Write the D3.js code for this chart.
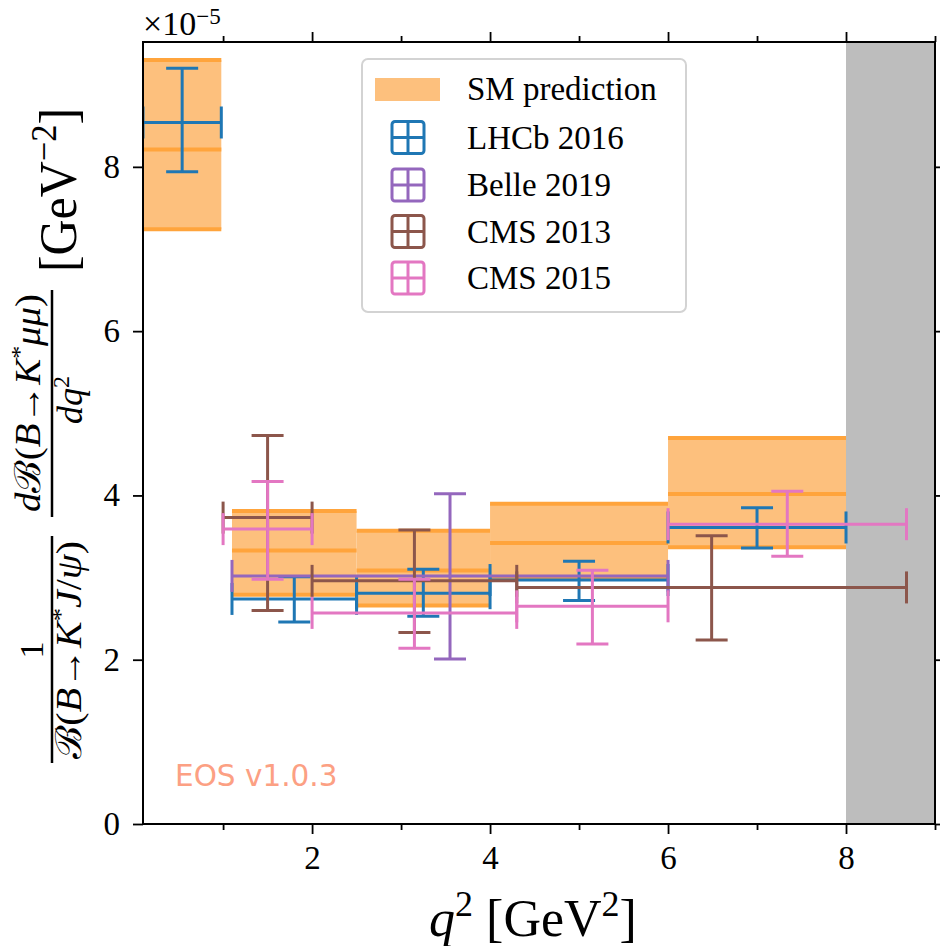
<!DOCTYPE html>
<html>
<head>
<meta charset="utf-8">
<script src="https://cdn.jsdelivr.net/npm/d3@7"></script>
<style>
  body { margin: 0; background: #fff; }
  svg text { font-family: "Liberation Serif", "Times New Roman", serif; }
</style>
</head>
<body>
<svg id="chart" width="940" height="946"></svg>
<script>
// ---- SM prediction (binned, units of 1e-5 GeV^-2) ----
const smLo      = [0.1, 1.1, 2.5, 4.0, 6.0];
const smHi      = [0.98, 2.5, 4.0, 6.0, 8.0];
const smCentral = [8.21, 3.33, 3.085, 3.42, 4.016];
const smLower   = [7.24, 2.79, 2.66, 2.99, 3.37];
const smUpper   = [9.30, 3.81, 3.57, 3.90, 4.70];

// ---- measurements ----
const lhcbLo      = [0.1, 1.1, 2.5, 4.0, 6.0];
const lhcbHi      = [0.98, 2.5, 4.0, 6.0, 8.0];
const lhcbValue   = [8.54, 2.74, 2.81, 2.97, 3.61];
const lhcbErrUp   = [0.66, 0.27, 0.29, 0.23, 0.24];
const lhcbErrDown = [0.60, 0.28, 0.28, 0.25, 0.25];

const belleLo      = [1.1];
const belleHi      = [6.0];
const belleValue   = [3.02];
const belleErrUp   = [1.00];
const belleErrDown = [1.01];

const cms13Lo      = [1.0, 2.0, 4.3];
const cms13Hi      = [2.0, 4.3, 8.68];
const cms13Value   = [3.73, 2.96, 2.88];
const cms13ErrUp   = [1.00, 0.62, 0.63];
const cms13ErrDown = [1.13, 0.63, 0.64];

const cms15Lo      = [1.0, 2.0, 4.3, 6.0];
const cms15Hi      = [2.0, 4.3, 6.0, 8.68];
const cms15Value   = [3.59, 2.57, 2.65, 3.65];
const cms15ErrUp   = [0.58, 0.41, 0.44, 0.40];
const cms15ErrDown = [0.61, 0.43, 0.46, 0.39];

const seriesNames  = ["LHCb 2016", "Belle 2019", "CMS 2013", "CMS 2015"];
const seriesColors = ["#1f77b4", "#9467bd", "#8c564b", "#e377c2"];

// ---- axes ----
const xTicks = [2, 4, 6, 8];
const xMinorTicks = [1, 3, 5, 7, 9];
const yTicks = [0, 2, 4, 6, 8];
const xDomain = [0.1, 9.0];
const yDomain = [0, 9.52];
const vetoRange = [8.0, 9.0];

const svg = d3.select("#chart");
const L = 143, R = 935, T = 42, B = 824;
const x = d3.scaleLinear().domain(xDomain).range([L, R]);
const y = d3.scaleLinear().domain(yDomain).range([B, T]);

svg.append("defs").append("clipPath").attr("id", "plotclip")
  .append("rect").attr("x", L).attr("y", T).attr("width", R - L).attr("height", B - T);

const plot = svg.append("g").attr("clip-path", "url(#plotclip)");

// vetoed charmonium region
plot.append("rect")
  .attr("x", x(vetoRange[0])).attr("y", T)
  .attr("width", x(vetoRange[1]) - x(vetoRange[0])).attr("height", B - T)
  .attr("fill", "#bdbdbd");

// SM bands
const sm = smLo.map((lo, i) => ({ lo, hi: smHi[i], c: smCentral[i], lo95: smLower[i], hi95: smUpper[i] }));
const smG = plot.append("g");
smG.selectAll("rect").data(sm).join("rect")
  .attr("x", d => x(d.lo)).attr("width", d => x(d.hi) - x(d.lo))
  .attr("y", d => y(d.hi95)).attr("height", d => y(d.lo95) - y(d.hi95))
  .attr("fill", "#fdc07d");
["hi95", "c", "lo95"].forEach(k => {
  smG.selectAll("line." + k).data(sm).join("line").attr("class", k)
    .attr("x1", d => x(d.lo)).attr("x2", d => x(d.hi))
    .attr("y1", d => y(d[k])).attr("y2", d => y(d[k]))
    .attr("stroke", "#ffa43c").attr("stroke-width", 4);
});

// error bars
const CAP = 16;
function drawSeries(lo, hi, val, up, dn, color) {
  const rows = lo.map((l, i) => ({ lo: l, hi: hi[i], v: val[i], up: up[i], dn: dn[i], mid: (l + hi[i]) / 2 }));
  const segs = [];
  rows.forEach(r => {
    const yv = y(r.v), xm = x(r.mid);
    segs.push([x(r.lo), yv, x(r.hi), yv]);
    segs.push([xm, y(r.v - r.dn), xm, y(r.v + r.up)]);
    segs.push([x(r.lo), yv - CAP, x(r.lo), yv + CAP]);
    segs.push([x(r.hi), yv - CAP, x(r.hi), yv + CAP]);
    segs.push([xm - CAP, y(r.v + r.up), xm + CAP, y(r.v + r.up)]);
    segs.push([xm - CAP, y(r.v - r.dn), xm + CAP, y(r.v - r.dn)]);
  });
  plot.append("g").selectAll("line").data(segs).join("line")
    .attr("x1", d => d[0]).attr("y1", d => d[1]).attr("x2", d => d[2]).attr("y2", d => d[3])
    .attr("stroke", color).attr("stroke-width", 3);
}
drawSeries(lhcbLo, lhcbHi, lhcbValue, lhcbErrUp, lhcbErrDown, seriesColors[0]);
drawSeries(belleLo, belleHi, belleValue, belleErrUp, belleErrDown, seriesColors[1]);
drawSeries(cms13Lo, cms13Hi, cms13Value, cms13ErrUp, cms13ErrDown, seriesColors[2]);
drawSeries(cms15Lo, cms15Hi, cms15Value, cms15ErrUp, cms15ErrDown, seriesColors[3]);

// frame
svg.append("rect").attr("x", L).attr("y", T).attr("width", R - L).attr("height", B - T)
  .attr("fill", "none").attr("stroke", "#000").attr("stroke-width", 2);

// axes with outward ticks on all four sides
function styleAxis(g, fs) {
  g.select(".domain").remove();
  g.selectAll(".tick line").attr("stroke", "#000").attr("stroke-width", 1.8);
  g.selectAll(".tick text").style("font-family", '"Liberation Serif", serif')
    .style("font-size", fs + "px").style("fill", "#000");
}
svg.append("g").attr("transform", `translate(0,${B})`)
  .call(d3.axisBottom(x).tickValues(xTicks).tickSize(10).tickPadding(12).tickFormat(d3.format("d")))
  .call(g => styleAxis(g, 33));
svg.append("g").attr("transform", `translate(0,${B})`)
  .call(d3.axisBottom(x).tickValues(xMinorTicks).tickSize(6).tickFormat(""))
  .call(g => styleAxis(g, 33));
svg.append("g").attr("transform", `translate(0,${T})`)
  .call(d3.axisTop(x).tickValues(xTicks).tickSize(10).tickFormat(""))
  .call(g => styleAxis(g, 33));
svg.append("g").attr("transform", `translate(0,${T})`)
  .call(d3.axisTop(x).tickValues(xMinorTicks).tickSize(6).tickFormat(""))
  .call(g => styleAxis(g, 33));
svg.append("g").attr("transform", `translate(${L},0)`)
  .call(d3.axisLeft(y).tickValues(yTicks).tickSize(10).tickPadding(13).tickFormat(d3.format("d")))
  .call(g => styleAxis(g, 33));
svg.append("g").attr("transform", `translate(${R},0)`)
  .call(d3.axisRight(y).tickValues(yTicks).tickSize(8).tickFormat(""))
  .call(g => styleAxis(g, 33));

// offset (scale factor) text
const off = svg.append("text").attr("x", 143).attr("y", 35).style("font-size", "34px").style("fill", "#000");
off.append("tspan").text("×10");
off.append("tspan").attr("dy", -11).style("font-size", "23px").text("−5");

// x label
const xl = svg.append("text").attr("x", 533).attr("y", 936).attr("text-anchor", "middle")
  .style("font-size", "52px").style("fill", "#000");
xl.append("tspan").style("font-style", "italic").text("q");
xl.append("tspan").attr("dy", -20).style("font-size", "36px").text("2");
xl.append("tspan").attr("dy", 20).text(" [GeV");
xl.append("tspan").attr("dy", -20).style("font-size", "36px").text("2");
xl.append("tspan").attr("dy", 20).text("]");

// y label: 1/B(B->K*J/psi) dB(B->K*mumu)/dq^2 [GeV^-2], rotated
const yl = svg.append("g");
function rotText(sx, sy, fs, len) {
  const t = yl.append("text").attr("transform", `translate(${sx},${sy}) rotate(-90)`)
    .attr("text-anchor", "middle").style("font-size", fs + "px").style("fill", "#000");
  if (len) t.attr("textLength", len).attr("lengthAdjust", "spacingAndGlyphs");
  return t;
}
function addPieces(t, pieces) {
  pieces.forEach(p => {
    const s = t.append("tspan").text(p.t);
    if (p.i) s.style("font-style", "italic");
    if (p.dy) s.attr("dy", p.dy);
    if (p.fs) s.style("font-size", p.fs + "px");
  });
}
// first fraction
rotText(43, 650, 34).text("1");
yl.append("line").attr("x1", 52).attr("x2", 52).attr("y1", 536).attr("y2", 763).attr("stroke", "#000").attr("stroke-width", 2.5);
addPieces(rotText(81, 650, 36, 218), [
  { t: "ℬ(" }, { t: "B", i: 1 }, { t: "→" }, { t: "K", i: 1 }, { t: "*", dy: -13, fs: 24 },
  { t: "J", i: 1, dy: 13 }, { t: "/" }, { t: "ψ", i: 1 }, { t: ")" }
]);
// second fraction
addPieces(rotText(40, 403, 36, 218), [
  { t: "d", i: 1 }, { t: "ℬ(" }, { t: "B", i: 1 }, { t: "→" }, { t: "K", i: 1 }, { t: "*", dy: -13, fs: 24 },
  { t: "μμ", i: 1, dy: 13 }, { t: ")" }
]);
yl.append("line").attr("x1", 52).attr("x2", 52).attr("y1", 290).attr("y2", 517).attr("stroke", "#000").attr("stroke-width", 2.5);
addPieces(rotText(82, 400, 36), [
  { t: "dq", i: 1 }, { t: "2", dy: -13, fs: 24 }
]);
// units
addPieces(rotText(76, 190, 52, 164), [
  { t: "[GeV" }, { t: "−2", dy: -20, fs: 36 }, { t: "]", dy: 20 }
]);

// legend
const lg = svg.append("g");
lg.append("rect").attr("x", 362).attr("y", 59).attr("width", 324).attr("height", 253).attr("rx", 6)
  .attr("fill", "#fff").attr("fill-opacity", 0.8).attr("stroke", "#d3d3d3").attr("stroke-width", 2);
lg.append("rect").attr("x", 375).attr("y", 78).attr("width", 65).attr("height", 23).attr("fill", "#fdc07d");
lg.append("text").attr("x", 467).attr("y", 100).style("font-size", "33px").style("fill", "#000").text("SM prediction");
const rowY = [137.5, 185, 231.5, 278];
seriesNames.forEach((name, i) => {
  const cy = rowY[i], cx = 408, h = 16;
  const m = lg.append("g").attr("stroke", seriesColors[i]).attr("stroke-width", 3).attr("fill", "none");
  m.append("rect").attr("x", cx - h).attr("y", cy - h).attr("width", 2 * h).attr("height", 2 * h).attr("rx", 3);
  m.append("line").attr("x1", cx).attr("x2", cx).attr("y1", cy - h).attr("y2", cy + h);
  m.append("line").attr("x1", cx - h).attr("x2", cx + h).attr("y1", cy).attr("y2", cy);
  lg.append("text").attr("x", 467).attr("y", cy + 11).style("font-size", "33px").style("fill", "#000").text(name);
});

// version tag
svg.append("text").attr("x", 175).attr("y", 786)
  .style("font-family", '"DejaVu Sans", sans-serif').style("font-size", "29.5px")
  .style("fill", "#fca083").text("EOS v1.0.3");
</script>
</body>
</html>
